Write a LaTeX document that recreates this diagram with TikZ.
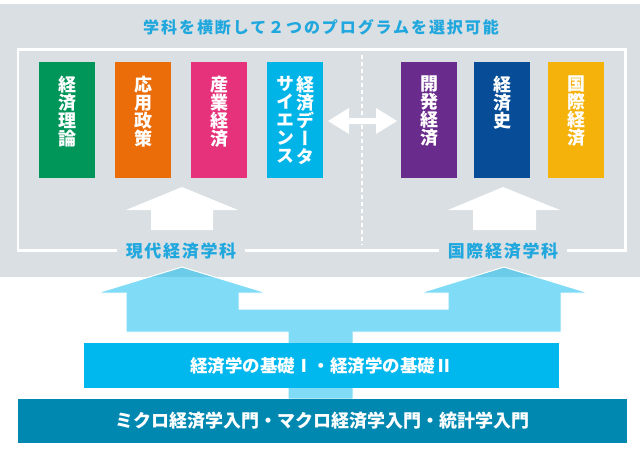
\documentclass[tikz,border=0pt]{standalone}
\usepackage{fontspec}
\setmainfont{Noto Sans CJK JP}
\newfontfamily\vertjp{Noto Sans CJK JP}[RawFeature=+vert]
\usetikzlibrary{positioning}

\definecolor{band}{HTML}{D9DFE2}
\definecolor{title blue}{HTML}{1FA7DE}
\definecolor{theory}{HTML}{00965A}
\definecolor{policy}{HTML}{EB6D0A}
\definecolor{industry}{HTML}{E5327A}
\definecolor{datasci}{HTML}{00B4E8}
\definecolor{develop}{HTML}{6A2C8C}
\definecolor{history}{HTML}{064C97}
\definecolor{intl}{HTML}{F5B20A}
\definecolor{basics}{HTML}{00B8EE}
\definecolor{intro}{HTML}{0088B1}
\colorlet{flow}{basics}

\def\upgen{(182,187) -- (238,210) -- (213,210) -- (213,230) -- (151,230) -- (151,210) -- (126,210) -- cycle}
\def\upint{(503,187) -- (560,210) -- (536,210) -- (536,230) -- (473,230) -- (473,210) -- (448,210) -- cycle}
\def\swap{(328,121) -- (349,108) -- (349,118) -- (376,118) -- (376,108) -- (397,121) -- (376,134) -- (376,124) -- (349,124) -- (349,134) -- cycle}
\def\branch{(182,267) -- (267,293) -- (239,293) -- (239,309) -- (448,309) -- (448,293) -- (420,293) -- (504,267)
  -- (589,293) -- (561,293) -- (561,332) -- (353,332) -- (353,399) -- (288,399) -- (288,332) -- (126,332)
  -- (126,293) -- (97,293) -- cycle}

\tikzset{coursebox/.style={minimum width=56pt, minimum height=116pt, inner sep=0pt, anchor=north west},
    coursetext/.style={text=white, font=\bfseries\fontsize{18}{18}\selectfont, align=center, inner sep=0pt},
    vcoursetext/.style={coursetext, font=\vertjp\bfseries\fontsize{18}{18}\selectfont},
    dept/.style={text=title blue, fill=band, inner xsep=9pt, font=\bfseries\fontsize{17}{17}\selectfont\addfontfeatures{LetterSpace=10}},
    basebox/.style={text=white, inner sep=0pt}}

\begin{document}
\begin{tikzpicture}[x=1pt, y=-1pt]
    \useasboundingbox (0,0) rectangle (640,450);
    \fill[band] (0,4) rectangle (640,277);
    \node[text=title blue, font=\bfseries\fontsize{16}{16}\selectfont\addfontfeatures{LetterSpace=12}] (title) at (321,27) {学科を横断して２つのプログラムを選択可能};
    \draw[white, line width=2.7pt] (18,49.5) rectangle (625.5,250.5);
    \draw[white, line width=2pt, dash pattern=on 4pt off 3pt] (362,55) -- (362,245);

    \node[coursebox, fill=theory] (econ) at (39,62) {};
    \node[coursebox, fill=policy] (policy) at (115,62) {};
    \node[coursebox, fill=industry] (industry) at (191,62) {};
    \node[coursebox, fill=datasci] (data) at (267,62) {};
    \node[coursebox, fill=develop] (develop) at (401,62) {};
    \node[coursebox, fill=history] (history) at (474,62) {};
    \node[coursebox, fill=intl] (intl) at (548,62) {};
    \node[coursetext, below=14pt of econ.north] {経\\済\\理\\論};
    \node[coursetext, below=14pt of policy.north] {応\\用\\政\\策};
    \node[coursetext, below=14pt of industry.north] {産\\業\\経\\済};
    \node[vcoursetext, below=14pt of data.north, xshift=10pt] {経\\済\\デ\\ー\\タ};
    \node[vcoursetext, below=14pt of data.north, xshift=-10pt] {サ\\イ\\エ\\ン\\ス};
    \node[coursetext, below=14pt of develop.north] {開\\発\\経\\済};
    \node[coursetext, below=14pt of history.north] {経\\済\\史};
    \node[coursetext, below=14pt of intl.north] {国\\際\\経\\済};

    \fill[white] \swap;
    \fill[white] \upgen;
    \fill[white] \upint;
    \node[dept] (gen) at (181,251) {現代経済学科};
    \node[dept] (int) at (503,251) {国際経済学科};

    \filldraw[fill=flow, fill opacity=0.5, draw=white, line width=1pt] \branch;
    \node[basebox, fill=basics, minimum width=475pt, minimum height=45pt, font=\bfseries\fontsize{17.5}{17.5}\selectfont] (base) at (321.5,365.5) {経済学の基礎Ⅰ・経済学の基礎Ⅱ};
    \node[basebox, fill=intro, minimum width=609pt, minimum height=44pt, font=\bfseries\fontsize{18}{18}\selectfont] (intro) at (322.5,421) {ミクロ経済学入門・マクロ経済学入門・統計学入門};
\end{tikzpicture}
\end{document}
